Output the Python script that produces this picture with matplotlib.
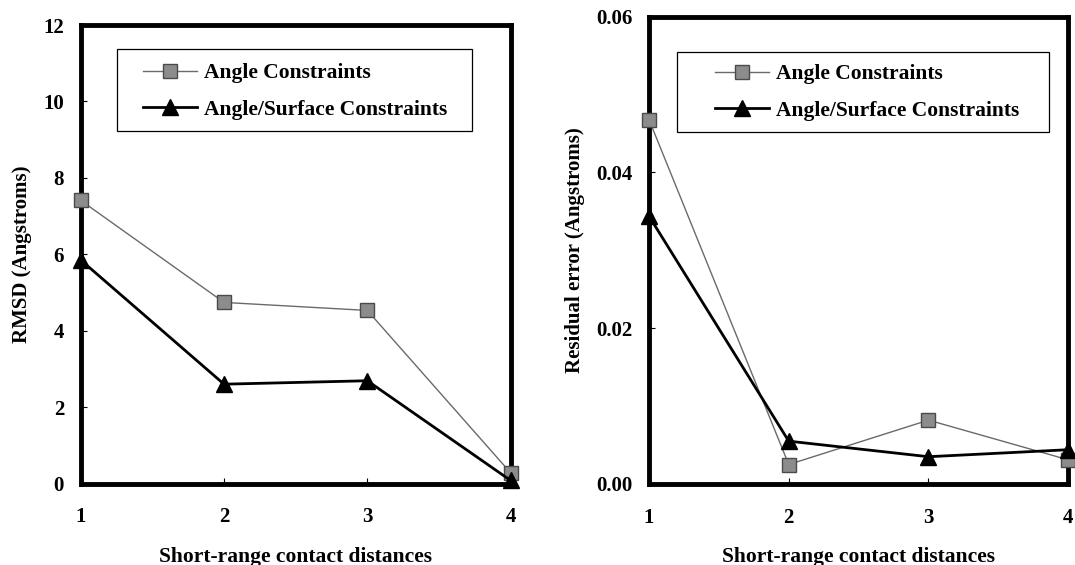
import matplotlib
matplotlib.use("Agg")
from matplotlib import pyplot as plt
from matplotlib.patches import Rectangle

# data
x = [1, 2, 3, 4]
rmsd_angle = [7.41, 4.74, 4.53, 0.28]
rmsd_surface = [5.85, 2.6, 2.69, 0.08]
resid_angle = [0.0468, 0.0025, 0.0082, 0.0031]
resid_surface = [0.0344, 0.0055, 0.0035, 0.0044]

lbl_angle = 'Angle Constraints'
lbl_surface = 'Angle/Surface Constraints'
xlabel = 'Short-range contact distances'

plt.rcParams['font.family'] = 'Liberation Serif'
plt.rcParams['font.weight'] = 'bold'

fig = plt.figure(figsize=(10.75, 5.65), dpi=100)
ax1 = fig.add_axes([0.0751, 0.1442, 0.3999, 0.8115])
ax2 = fig.add_axes([0.6037, 0.1434, 0.3900, 0.8270])


def draw(ax, ya, ys, ylim, yticks, ylabel, fmt, frame, leg_anchor):
    ax.plot(x, ya, color='#6a6a6a', lw=1, marker='s', ms=10,
            mfc='#8c8c8c', mec='#4a4a4a', label=lbl_angle, clip_on=False, zorder=3)
    ax.plot(x, ys, color='black', lw=2, marker='^', ms=11.5,
            mfc='black', mec='black', label=lbl_surface, clip_on=False, zorder=4)
    ax.set_xlim(1, 4)
    ax.set_ylim(*ylim)
    ax.set_xticks(x)
    ax.set_yticks(yticks)
    ax.set_yticklabels([fmt.format(v) for v in yticks])
    ax.tick_params(axis='x', direction='in', length=4, pad=17, labelsize=15)
    ax.tick_params(axis='y', direction='in', length=4, pad=12, labelsize=15)
    for s in ax.spines.values():
        s.set_linewidth(3.5)
    ax.set_xlabel(xlabel, fontsize=15.5, fontweight='bold', labelpad=14)
    ax.set_ylabel(ylabel, fontsize=15, fontweight='bold', labelpad=8)
    # legend frame drawn separately so the padding matches
    ax.add_patch(Rectangle(frame[:2], frame[2], frame[3], transform=ax.transAxes,
                           fill=False, ec='black', lw=0.9, zorder=5))
    ax.legend(loc='center left', bbox_to_anchor=leg_anchor, frameon=False,
              prop={'size': 15.5, 'weight': 'bold'}, handlelength=2.5,
              handletextpad=0.35, labelspacing=0.75, borderpad=0, borderaxespad=0)


draw(ax1, rmsd_angle, rmsd_surface, (0, 12), [0, 2, 4, 6, 8, 10, 12],
     'RMSD (Angstroms)', '{:.0f}', (0.0837, 0.7688, 0.826, 0.179), (0.145, 0.855))
draw(ax2, resid_angle, resid_surface, (0, 0.06), [0, 0.02, 0.04, 0.06],
     'Residual error (Angstroms)', '{:.2f}', (0.0658, 0.754, 0.888, 0.171), (0.157, 0.838))

fig.savefig('out.png', dpi=100)
